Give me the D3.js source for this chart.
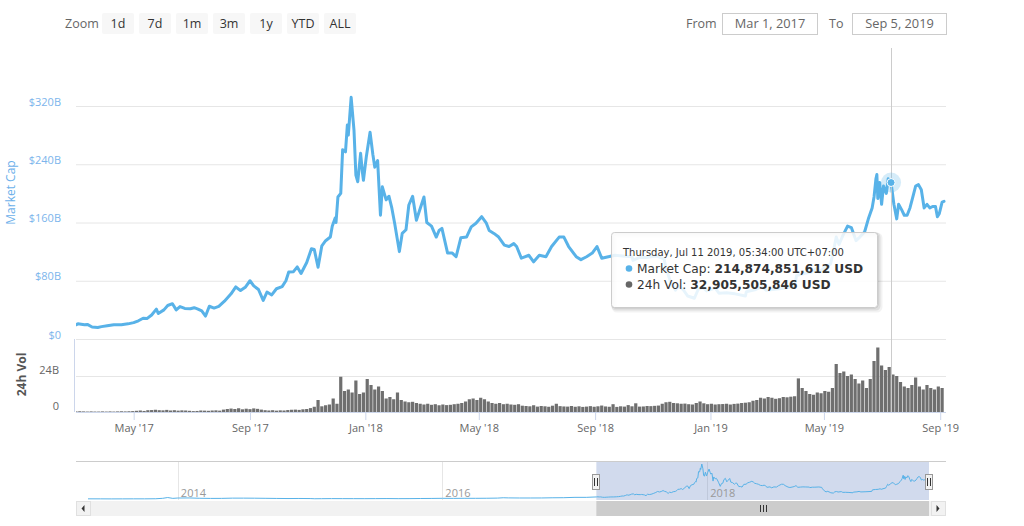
<!DOCTYPE html>
<html><head><meta charset="utf-8">
<script src="https://cdn.jsdelivr.net/npm/d3@7"></script>
<style>
html,body{margin:0;padding:0;background:#fff;}
svg{display:block;font-family:"Open Sans",sans-serif;}
</style></head><body>
<svg id="c" width="1024" height="526"></svg>
<script>
// ---------- DATA ----------
const mcapDates = ["2017-03-01","2017-03-03","2017-03-10","2017-03-13","2017-03-18","2017-03-24","2017-03-28","2017-04-03","2017-04-10","2017-04-18","2017-04-25",
"2017-05-01","2017-05-06","2017-05-11","2017-05-15","2017-05-20","2017-05-25","2017-05-27","2017-06-02","2017-06-06","2017-06-11","2017-06-15","2017-06-19","2017-06-24","2017-06-30",
"2017-07-04","2017-07-08","2017-07-12","2017-07-16","2017-07-20","2017-07-25","2017-07-30","2017-08-05","2017-08-12","2017-08-17","2017-08-22","2017-08-27",
"2017-09-01","2017-09-05","2017-09-10","2017-09-15","2017-09-19","2017-09-24","2017-09-29","2017-10-05","2017-10-09","2017-10-12","2017-10-17","2017-10-21","2017-10-25","2017-10-31",
"2017-11-05","2017-11-08","2017-11-12","2017-11-16","2017-11-20","2017-11-25","2017-11-27","2017-11-30","2017-12-01","2017-12-03","2017-12-06","2017-12-08","2017-12-11","2017-12-13","2017-12-14","2017-12-17","2017-12-20","2017-12-22","2017-12-24","2017-12-27","2017-12-29","2017-12-30",
"2018-01-02","2018-01-06","2018-01-09","2018-01-11","2018-01-14","2018-01-17","2018-01-19","2018-01-23","2018-01-26","2018-01-29","2018-02-01","2018-02-06","2018-02-09","2018-02-13","2018-02-16","2018-02-20","2018-02-24","2018-02-27",
"2018-03-04","2018-03-07","2018-03-12","2018-03-17","2018-03-20","2018-03-23","2018-03-29","2018-04-03","2018-04-07","2018-04-12","2018-04-18","2018-04-23","2018-04-28",
"2018-05-04","2018-05-09","2018-05-12","2018-05-17","2018-05-22","2018-05-28","2018-06-02","2018-06-07","2018-06-10","2018-06-15","2018-06-23","2018-06-28",
"2018-07-04","2018-07-11","2018-07-17","2018-07-25","2018-07-30","2018-08-04","2018-08-12","2018-08-17","2018-08-23","2018-08-29","2018-09-03","2018-09-08","2018-09-15","2018-09-22","2018-09-30",
"2018-10-10","2018-10-11","2018-10-18","2018-10-25","2018-11-05","2018-11-13","2018-11-15","2018-11-20","2018-11-25","2018-11-28","2018-12-03","2018-12-08","2018-12-15","2018-12-19","2018-12-24","2018-12-28",
"2019-01-06","2019-01-10","2019-01-18","2019-01-27","2019-02-07","2019-02-08","2019-02-18","2019-02-24","2019-03-01","2019-03-15","2019-03-31","2019-04-02","2019-04-10","2019-04-18","2019-04-23","2019-04-26",
"2019-05-04","2019-05-08","2019-05-11","2019-05-14","2019-05-17","2019-05-21","2019-05-26","2019-05-30","2019-06-04","2019-06-08","2019-06-13","2019-06-17","2019-06-21","2019-06-23","2019-06-25","2019-06-26","2019-06-27","2019-06-29",
"2019-07-01","2019-07-03","2019-07-06","2019-07-08","2019-07-11","2019-07-14","2019-07-17","2019-07-19","2019-07-22","2019-07-25","2019-07-28","2019-07-31",
"2019-08-03","2019-08-06","2019-08-09","2019-08-12","2019-08-15","2019-08-18","2019-08-21","2019-08-24","2019-08-27","2019-08-29","2019-08-31","2019-09-03","2019-09-05"];
// market cap, billions USD
const mcapValues = [19.5,20.8,19.5,20.0,16.5,15.8,17.0,18.2,19.5,19.6,20.8,
22.5,25.0,28.5,28.0,33.0,41.0,35.0,40.0,46.0,48.5,40.0,44.5,42.0,41.5,
43.0,41.0,38.5,31.5,45.0,42.5,44.8,52.0,62.0,71.5,66.5,71.0,
80.0,73.0,68.0,53.0,64.5,60.5,69.0,72.0,80.0,92.0,92.5,99.0,90.0,105.0,
124.0,123.0,98.5,128.0,135.0,140.0,155.0,166.0,160.0,195.0,200.0,260.0,257.0,294.0,280.0,332.0,287.0,225.0,216.0,255.0,228.0,218.0,
250.0,284.0,253.0,236.0,245.0,170.0,209.0,191.0,196.0,180.0,159.0,120.0,145.0,150.0,184.0,196.0,163.0,175.0,
195.0,160.0,155.0,140.0,149.0,152.0,118.0,118.0,113.0,139.0,140.0,154.0,159.0,
168.0,159.0,149.0,145.0,140.0,129.0,127.0,131.0,127.0,111.0,115.0,106.0,
115.0,113.0,127.0,140.0,140.0,127.0,113.0,109.0,113.0,118.0,127.0,111.0,113.0,115.0,114.0,
113.0,108.0,112.0,112.0,114.0,110.0,97.0,78.0,67.0,73.0,68.0,59.0,56.0,68.0,71.0,66.0,
70.0,63.0,63.5,62.0,59.0,65.0,68.0,72.0,67.0,69.0,72.0,87.0,90.0,92.0,97.0,92.0,
100.0,103.0,120.0,140.0,130.0,142.0,155.0,153.0,135.0,140.0,147.0,165.0,180.0,195.0,220.0,226.0,193.0,215.0,
185.0,210.0,200.0,220.0,214.9,185.0,165.0,185.0,178.0,170.0,170.0,180.0,
195.0,210.0,212.0,205.0,180.0,185.0,180.0,182.0,182.0,168.0,172.0,188.0,189.0];

// 24h volume, billions USD, one value every 4 days from volStart
const volStart = "2017-03-01";
const volStepDays = 4;
const volValues = [0.4,0.5,0.4,0.3,0.4,0.3,0.3,0.4,0.3,0.4,0.3,0.4,0.5,0.4,0.5,
0.6,0.8,1.0,0.7,1.2,
1.3,1.5,1.2,1.1,1.4,1.0,1.2,0.9,1.1,1.0,
0.8,0.6,0.7,1.0,0.9,
0.8,1.0,1.1,0.9,1.6,2.0,
2.3,2.0,2.5,1.8,2.2,1.9,2.4,2.1,1.6,1.2,
1.0,1.2,0.9,1.1,1.0,1.3,
1.5,1.6,1.4,1.8,2.0,2.6,
3.5,8.0,3.8,4.5,5.0,9.0,5.5,
23.5,14,15,13,21,12,13,22,18,15,17,14,
9,10,8.5,13,8,7,6.5,6.8,6,5.5,
5,5.5,4.8,5.2,4.5,5,4.6,4.8,5.2,5.5,6,7,
8.5,9,8,9.5,8.5,7,6,5.5,6,5.2,5.5,5,4.8,5.2,
4.2,4.0,3.8,4.5,3.6,4.0,3.8,3.5,4.2,5.5,3.9,3.7,3.6,4.0,3.5,3.8,3.4,3.6,3.9,3.5,3.8,4.3,3.7,3.5,5.2,3.4,3.8,3.6,4.6,3.8,5.8,3.6,3.7,4.0,3.9,4.1,4.3,
5.5,6.5,6.8,6.0,5.8,5.5,5.6,5.2,5.0,6.0,7.0,5.8,
5.2,5.5,5.0,5.2,5.3,5.5,5.0,5.4,5.6,6.0,6.2,6.5,7.5,
8,9.5,9,10,9.5,8.8,9.2,10,9.8,10.2,10.5,
22.4,16,14,12,11.5,13,12.5,14,13.5,16,
32,26,27,24,25,22,19,21,16,22,
34,43,31,28,30,25,24,
20,17,16,18,23,17,15,18,16,15,17,16];

// navigator history before the selected range (billions USD)
const navHistDates = ["2013-04-28","2013-06-01","2013-07-01","2013-08-01","2013-09-01","2013-10-01","2013-11-01","2013-11-20","2013-12-04","2013-12-18",
"2014-01-01","2014-02-01","2014-03-01","2014-04-01","2014-05-01","2014-06-01","2014-07-01","2014-08-01","2014-09-01","2014-10-01","2014-11-01","2014-12-01",
"2015-01-01","2015-01-14","2015-02-01","2015-03-01","2015-04-01","2015-05-01","2015-06-01","2015-07-01","2015-08-01","2015-09-01","2015-10-01","2015-11-01","2015-12-01",
"2016-01-01","2016-02-01","2016-03-01","2016-04-01","2016-05-01","2016-06-01","2016-06-17","2016-07-01","2016-08-01","2016-09-01","2016-10-01","2016-11-01","2016-12-01",
"2017-01-01","2017-02-01"];
const navHistValues = [1.5,1.35,1.0,1.2,1.6,1.5,2.5,6.5,13.8,6.0,
9.3,10.0,7.0,5.5,5.8,8.2,8.2,7.7,6.4,5.2,4.4,5.0,
4.3,2.5,3.1,3.8,3.5,3.3,3.2,3.7,4.2,3.4,3.6,4.7,5.3,
6.5,5.8,6.6,6.4,7.0,8.5,11.8,10.5,9.5,9.5,9.8,11.7,12.3,
15.6,15.6];

const xTickDates = ["2017-05-01","2017-09-01","2018-01-01","2018-05-01","2018-09-01","2019-01-01","2019-05-01","2019-09-01"];
const mcapTicks = [0,80,160,240,320];
const volTicks = [0,24];
const navYearTicks = ["2014-01-01","2016-01-01","2018-01-01"];
const zoomButtons = ["1d","7d","1m","3m","1y","YTD","ALL"];
const rangeFrom = "Mar 1, 2017", rangeTo = "Sep 5, 2019";
const rangeStart = "2017-03-01", rangeEnd = "2019-09-05", navStart = "2013-04-28";
const tipDate = "2019-07-11", tipMcap = 214.874851612;
const tipHeader = "Thursday, Jul 11 2019, 05:34:00 UTC+07:00";
const tipRows = [["Market Cap: ","214,874,851,612 USD"],["24h Vol: ","32,905,505,846 USD"]];

// ---------- DRAW ----------
const P = d3.utcParse("%Y-%m-%d");
const LINE = "#58b2e8", FONT = "Open Sans, sans-serif", TFONT = "DejaVu Sans, sans-serif";
const svg = d3.select("#c");
const main = mcapDates.map((d,i)=>({date:P(d), v:mcapValues[i]}));
const vol = volValues.map((v,i)=>({date:d3.utcDay.offset(P(volStart), i*volStepDays), v}));
const nav = navHistDates.map((d,i)=>({date:P(d), v:navHistValues[i]})).concat(main);

const x = d3.scaleUtc().domain([P(rangeStart), P(rangeEnd)]).range([76, 944]);
const y = d3.scaleLinear().domain([0,320]).range([339,106]);
const yv = d3.scaleLinear().domain([0,24]).range([412,376]);
const xn = d3.scaleUtc().domain([P(navStart), P(rangeEnd)]).range([88, 929]);
const yn = d3.scaleLinear().domain([0, d3.max(nav, d=>d.v)]).range([499, 464]);

const defs = svg.append("defs");
defs.append("clipPath").attr("id","cm").append("rect").attr("x",76).attr("y",40).attr("width",870).attr("height",300);
defs.append("clipPath").attr("id","cv").append("rect").attr("x",76).attr("y",339).attr("width",870).attr("height",73);

// toolbar
svg.append("text").attr("x",65).attr("y",28).attr("font-size",12.5).attr("fill","#666").text("Zoom");
const btn = svg.append("g").selectAll("g").data(zoomButtons).join("g")
  .attr("transform",(d,i)=>`translate(${102+37*i},13)`);
btn.append("rect").attr("width",32).attr("height",21).attr("rx",2).attr("fill","#f7f7f7");
btn.append("text").attr("x",16).attr("y",15).attr("text-anchor","middle").attr("font-size",12.5).attr("fill","#333").text(d=>d);
svg.append("text").attr("x",686).attr("y",28).attr("font-size",12.5).attr("fill","#666").text("From");
svg.append("text").attr("x",829).attr("y",28).attr("font-size",12.5).attr("fill","#666").text("To");
[[722.5,95,rangeFrom],[852.5,94,rangeTo]].forEach(([bx,bw,t])=>{
  svg.append("rect").attr("x",bx).attr("y",13.5).attr("width",bw).attr("height",21).attr("fill","#fff").attr("stroke","#cccccc");
  svg.append("text").attr("x",bx+bw/2).attr("y",28).attr("text-anchor","middle").attr("font-size",12.8).attr("fill","#666").text(t);
});

// main y axis / grid
svg.append("g").attr("transform","translate(76,0)")
  .call(d3.axisLeft(y).tickValues(mcapTicks).tickSize(-870).tickPadding(15).tickFormat(d=>d===0?"$0":"$"+d+"B"))
  .call(g=>g.attr("font-family",FONT).attr("font-size",11))
  .call(g=>g.select(".domain").remove())
  .call(g=>g.selectAll("line").attr("stroke","#e6e6e6"))
  .call(g=>g.selectAll("text").attr("fill","#7cb5ec").attr("dy",-1));
svg.append("text").attr("transform","translate(15,192.5) rotate(-90)").attr("text-anchor","middle")
  .attr("font-size",12).attr("fill","#6cb0ea").text("Market Cap");

// volume axis / grid
svg.append("g").attr("transform","translate(76,0)")
  .call(d3.axisLeft(yv).tickValues(volTicks).tickSize(-870).tickPadding(17).tickFormat(d=>d===0?"0":d+"B"))
  .call(g=>g.attr("font-family",FONT).attr("font-size",11))
  .call(g=>g.select(".domain").remove())
  .call(g=>g.selectAll("line").attr("stroke",d=>d===0?"none":"#e6e6e6"))
  .call(g=>g.selectAll("text").attr("fill","#666").attr("dy",-3));
svg.append("text").attr("transform","translate(26,374.5) rotate(-90)").attr("text-anchor","middle")
  .attr("font-size",12).attr("font-weight","bold").attr("fill","#555").text("24h Vol");
svg.append("line").attr("x1",74.5).attr("x2",74.5).attr("y1",339).attr("y2",412).attr("stroke","#ccd6eb");

// x axis
svg.append("g").attr("transform","translate(0,412)")
  .call(d3.axisBottom(x).tickValues(xTickDates.map(P)).tickSizeInner(8).tickSizeOuter(0).tickPadding(4).tickFormat(d3.utcFormat("%b '%y")))
  .call(g=>g.attr("font-family",FONT).attr("font-size",11))
  .call(g=>g.select(".domain").attr("d","M76,0.5H946").attr("stroke","#ccd6eb"))
  .call(g=>g.selectAll("line").attr("stroke","#ccd6eb"))
  .call(g=>g.selectAll("text").attr("fill","#666"));

// volume bars
svg.append("g").attr("clip-path","url(#cv)").selectAll("rect").data(vol).join("rect")
  .attr("x",d=>x(d.date)-1.6).attr("width",3.2)
  .attr("y",d=>yv(d.v)).attr("height",d=>yv(0)-yv(d.v)).attr("fill","#6f6f6f");

// main line
svg.append("path").datum(main).attr("clip-path","url(#cm)")
  .attr("fill","none").attr("stroke",LINE).attr("stroke-width",3).attr("stroke-linejoin","round").attr("stroke-linecap","round")
  .attr("d",d3.line().x(d=>x(d.date)).y(d=>y(d.v)));

// crosshair + marker
const cx = Math.round(x(P(tipDate)))+0.5;
svg.append("line").attr("x1",cx).attr("x2",cx).attr("y1",48).attr("y2",412).attr("stroke","#cccccc");
svg.append("circle").attr("cx",x(P(tipDate))).attr("cy",y(tipMcap)).attr("r",10).attr("fill",LINE).attr("fill-opacity",0.25);
svg.append("circle").attr("cx",x(P(tipDate))).attr("cy",y(tipMcap)).attr("r",4).attr("fill",LINE).attr("stroke","#fff").attr("stroke-width",1);

// tooltip
const tt = svg.append("g").attr("transform","translate(611,232)").attr("font-family",TFONT);
[3,2,1].forEach((o,i)=>tt.append("rect").attr("x",o).attr("y",o).attr("width",266).attr("height",75).attr("rx",3)
  .attr("fill","none").attr("stroke","#000").attr("stroke-opacity",[0.05,0.08,0.12][i]).attr("stroke-width",[5,3,1][i]));
tt.append("rect").attr("x",0.5).attr("y",0.5).attr("width",266).attr("height",75).attr("rx",3)
  .attr("fill","rgba(255,255,255,0.86)").attr("stroke","#cccccc");
tt.append("text").attr("x",12).attr("y",24).attr("font-size",10).attr("fill","#333").text(tipHeader);
tipRows.forEach((r,i)=>{
  tt.append("circle").attr("cx",18).attr("cy",36.5+16*i).attr("r",3.3).attr("fill",i===0?LINE:"#666");
  const t = tt.append("text").attr("x",26).attr("y",41+16*i).attr("font-size",12.2).attr("fill","#333");
  t.append("tspan").text(r[0]);
  t.append("tspan").attr("font-weight","bold").text(r[1]);
});

// navigator
const nz0 = xn(P(rangeStart)), nz1 = xn(P(rangeEnd));
svg.append("g").selectAll("line").data(navYearTicks.map(P)).join("line")
  .attr("x1",d=>Math.round(xn(d))+0.5).attr("x2",d=>Math.round(xn(d))+0.5).attr("y1",461).attr("y2",500).attr("stroke","#e6e6e6");
svg.append("rect").attr("x",nz0).attr("y",461).attr("width",nz1-nz0).attr("height",39).attr("fill","rgba(102,133,194,0.3)");
svg.append("g").selectAll("text").data(navYearTicks.map(P)).join("text")
  .attr("x",d=>xn(d)+3).attr("y",497).attr("font-size",11).attr("fill","#999").text(d3.utcFormat("%Y"));
svg.append("path").datum(nav).attr("fill","none").attr("stroke",LINE).attr("stroke-width",1)
  .attr("d",d3.line().x(d=>xn(d.date)).y(d=>yn(d.v)));
svg.append("line").attr("x1",76).attr("x2",946).attr("y1",461.5).attr("y2",461.5).attr("stroke","#cccccc");
// scrollbar
svg.append("rect").attr("x",76).attr("y",501).attr("width",870).attr("height",15).attr("fill","#f2f2f2");
svg.append("rect").attr("x",nz0).attr("y",501).attr("width",nz1-nz0).attr("height",15).attr("fill","#cccccc");
const rc = (nz0+nz1)/2;
[-3,0,3].forEach(o=>svg.append("line").attr("x1",Math.round(rc+o)+0.5).attr("x2",Math.round(rc+o)+0.5).attr("y1",505).attr("y2",512).attr("stroke","#333"));
[[76,1],[931,-1]].forEach(([bx,dir])=>{
  svg.append("rect").attr("x",bx+0.5).attr("y",501.5).attr("width",14).attr("height",14).attr("fill","#f2f2f2").attr("stroke","#e0e0e0");
  const cxa = bx+7;
  svg.append("path").attr("d",dir>0?`M${cxa+1.5},505 L${cxa-1.5},508.5 L${cxa+1.5},512 Z`:`M${cxa-1.5},505 L${cxa+1.5},508.5 L${cxa-1.5},512 Z`).attr("fill","#333");
});
// handles
[nz0,nz1].forEach(hx=>{
  const h = svg.append("g").attr("transform",`translate(${Math.round(hx)},474)`);
  h.append("rect").attr("x",-3.5).attr("y",0.5).attr("width",7).attr("height",15).attr("fill","#f2f2f2").attr("stroke","#999");
  h.append("line").attr("x1",-1.5).attr("x2",-1.5).attr("y1",4).attr("y2",12).attr("stroke","#333");
  h.append("line").attr("x1",1.5).attr("x2",1.5).attr("y1",4).attr("y2",12).attr("stroke","#333");
});
</script>
</body></html>
